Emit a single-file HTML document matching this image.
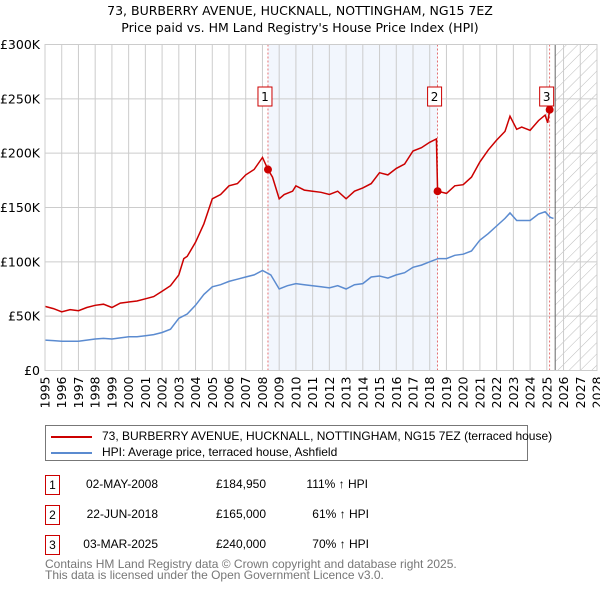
<!DOCTYPE html>
<html><head><meta charset="utf-8">
<style>
body{margin:0;background:#fff;font-family:"Liberation Sans","DejaVu Sans",sans-serif;}
svg text{font-family:"DejaVu Sans","Liberation Sans",sans-serif;}
</style></head>
<body>
<svg id="c" width="600" height="590" viewBox="0 0 600 590" xmlns="http://www.w3.org/2000/svg">
<defs>
<pattern id="hatch" patternUnits="userSpaceOnUse" width="8" height="8" patternTransform="rotate(45)">
<line x1="0" y1="0" x2="0" y2="8" stroke="#bbb" stroke-width="1"/>
</pattern>
</defs>
<text x="300" y="15" text-anchor="middle" font-size="12.5" fill="#000">73, BURBERRY AVENUE, HUCKNALL, NOTTINGHAM, NG15 7EZ</text>
<text x="300" y="32" text-anchor="middle" font-size="12.5" fill="#000">Price paid vs. HM Land Registry's House Price Index (HPI)</text>
<g id="plot"></g>
</svg>
<script>
const yTicks=[0,50000,100000,150000,200000,250000,300000];
const yTickLabels=["£0","£50K","£100K","£150K","£200K","£250K","£300K"];
const xYears=[1995,1996,1997,1998,1999,2000,2001,2002,2003,2004,2005,2006,2007,2008,2009,2010,2011,2012,2013,2014,2015,2016,2017,2018,2019,2020,2021,2022,2023,2024,2025,2026,2027,2028];
const redT=[1995,1995.5,1996,1996.5,1997,1997.5,1998,1998.5,1999,1999.5,2000,2000.5,2001,2001.5,2002,2002.5,2003,2003.3,2003.5,2004,2004.5,2005,2005.5,2006,2006.5,2007,2007.5,2008,2008.33,2008.6,2009,2009.3,2009.8,2010,2010.5,2011,2011.5,2012,2012.5,2013,2013.5,2014,2014.5,2015,2015.5,2016,2016.5,2017,2017.5,2018,2018.4,2018.47,2019,2019.5,2020,2020.5,2021,2021.5,2022,2022.5,2022.8,2023.2,2023.5,2024,2024.5,2024.9,2025.05,2025.17];
const redV=[59000,57000,54000,56000,55000,58000,60000,61000,58000,62000,63000,64000,66000,68000,73000,78000,88000,103000,105000,118000,135000,158000,162000,170000,172000,180000,185000,196000,184950,178000,158000,162000,165000,170000,166000,165000,164000,162000,165000,158000,165000,168000,172000,182000,180000,186000,190000,202000,205000,210000,213000,165000,163000,170000,171000,178000,192000,203000,212000,220000,234000,222000,224000,221000,230000,235000,228000,240000];
const hpiT=[1995,1995.5,1996,1996.5,1997,1997.5,1998,1998.5,1999,1999.5,2000,2000.5,2001,2001.5,2002,2002.5,2003,2003.5,2004,2004.5,2005,2005.5,2006,2006.5,2007,2007.5,2008,2008.5,2009,2009.5,2010,2010.5,2011,2011.5,2012,2012.5,2013,2013.5,2014,2014.5,2015,2015.5,2016,2016.5,2017,2017.5,2018,2018.5,2019,2019.5,2020,2020.5,2021,2021.5,2022,2022.5,2022.8,2023.2,2024,2024.5,2024.9,2025.2,2025.4];
const hpiV=[28000,27500,27000,27000,27000,28000,29000,29500,29000,30000,31000,31000,32000,33000,35000,38000,48000,52000,60000,70000,77000,79000,82000,84000,86000,88000,92000,88000,75000,78000,80000,79000,78000,77000,76000,78000,75000,79000,80000,86000,87000,85000,88000,90000,95000,97000,100000,103000,103000,106000,107000,110000,120000,126000,133000,140000,145000,138000,138000,144000,146000,141000,140000];
const saleT=[2008.33,2018.47,2025.17];
const saleV=[184950,165000,240000];
const saleLabels=["1","2","3"];

const X0=45,X1=597,Y0=370.5,Y1=44.5;
const xs=t=>X0+(t-1995)/(2028-1995)*(X1-X0);
const ys=v=>Y0-(v/300000)*(Y0-Y1);
const NS="http://www.w3.org/2000/svg";
const g=document.getElementById('plot');
function mk(tag,attrs,parent){const e=document.createElementNS(NS,tag);for(const k in attrs)e.setAttribute(k,attrs[k]);(parent||g).appendChild(e);return e;}

const sh=mk('rect',{x:xs(saleT[0]),y:Y1,width:xs(saleT[1])-xs(saleT[0]),height:Y0-Y1,fill:'#eef3fc',opacity:0.75});


const hx=xs(2025.5);
const ht=mk('rect',{x:hx,y:Y1,width:X1-hx,height:Y0-Y1,fill:'url(#hatch)'});


xYears.forEach(yr=>{
 const l=mk('line',{x1:xs(yr),x2:xs(yr),y1:Y1,y2:Y0,stroke:'#ccc','stroke-width':1});
 
 
 const t=mk('text',{x:0,y:0,'font-size':12.5,fill:'#000','text-anchor':'end',transform:`translate(${xs(yr)+4.5},${Y0+6}) rotate(-90)`});
 t.textContent=yr;
 
 
});
yTicks.forEach((v,i)=>{
 const l=mk('line',{x1:X0,x2:X1,y1:ys(v),y2:ys(v),stroke:'#ccc','stroke-width':1});
 
 
 const t=mk('text',{x:40,y:ys(v)+4.5,'font-size':12.5,fill:'#000','text-anchor':'end'});
 t.textContent=yTickLabels[i];
 
 
});
const vl=mk('line',{x1:hx,x2:hx,y1:Y1,y2:Y0,stroke:'#666','stroke-width':1});


saleT.forEach(t=>{
 const l=mk('line',{x1:xs(t),x2:xs(t),y1:Y1,y2:Y0,stroke:'#e05050','stroke-width':0.8,'stroke-dasharray':'2,2'});
 
 
});
function path(T,V){return T.map((t,i)=>(i?'L':'M')+xs(t).toFixed(1)+','+ys(V[i]).toFixed(1)).join('');}
const hp=mk('path',{d:path(hpiT,hpiV),fill:'none',stroke:'#5b8bd0','stroke-width':1.5});


const rp=mk('path',{d:path(redT,redV),fill:'none',stroke:'#cc0000','stroke-width':1.5});


saleT.forEach((t,i)=>{
 const c=mk('circle',{cx:xs(t),cy:ys(saleV[i]),r:4,fill:'#cc0000'});
 
 
 const cx=xs(t)-3;
 const r=mk('rect',{x:cx-7,y:87,width:14,height:19,fill:'#fff',stroke:'#cc0000','stroke-width':1});
 
 
 const tx=mk('text',{x:cx,y:101,'font-size':12,'text-anchor':'middle',fill:'#000'});
 tx.textContent=saleLabels[i];
 
 
});
const fr=mk('rect',{x:X0,y:Y1,width:X1-X0,height:Y0-Y1,fill:'none',stroke:'#ccc','stroke-width':1});


</script>
<div style="position:absolute;left:45px;top:425px;width:481px;height:34px;border:1px solid #777;font-size:12px;">
 <div style="position:absolute;left:5px;top:3px;white-space:nowrap;"><span style="display:inline-block;width:41px;height:2px;background:#cc0000;vertical-align:middle;margin-right:10px;"></span>73, BURBERRY AVENUE, HUCKNALL, NOTTINGHAM, NG15 7EZ (terraced house)</div>
 <div style="position:absolute;left:5px;top:19px;white-space:nowrap;"><span style="display:inline-block;width:41px;height:2px;background:#5b8bd0;vertical-align:middle;margin-right:10px;"></span>HPI: Average price, terraced house, Ashfield</div>
</div>
<div style="position:absolute;left:0;top:0;font-size:12px;">
 <div>
  <div style="position:absolute;left:45px;top:475px;width:13px;height:18px;border:1px solid #cc0000;text-align:center;line-height:18px;">1</div>
  <div style="position:absolute;left:60px;top:477px;width:98px;text-align:right;">02-MAY-2008</div>
  <div style="position:absolute;left:180px;top:477px;width:86px;text-align:right;">£184,950</div>
  <div style="position:absolute;left:280px;top:477px;width:88px;text-align:right;">111% ↑ HPI</div>
 </div>
 <div>
  <div style="position:absolute;left:45px;top:505px;width:13px;height:18px;border:1px solid #cc0000;text-align:center;line-height:18px;">2</div>
  <div style="position:absolute;left:60px;top:507px;width:98px;text-align:right;">22-JUN-2018</div>
  <div style="position:absolute;left:180px;top:507px;width:86px;text-align:right;">£165,000</div>
  <div style="position:absolute;left:280px;top:507px;width:89px;text-align:right;">61% ↑ HPI</div>
 </div>
 <div>
  <div style="position:absolute;left:45px;top:535px;width:13px;height:18px;border:1px solid #cc0000;text-align:center;line-height:18px;">3</div>
  <div style="position:absolute;left:60px;top:537px;width:98px;text-align:right;">03-MAR-2025</div>
  <div style="position:absolute;left:180px;top:537px;width:86px;text-align:right;">£240,000</div>
  <div style="position:absolute;left:280px;top:537px;width:89px;text-align:right;">70% ↑ HPI</div>
 </div>
</div>
<div style="position:absolute;left:45px;top:559px;font-size:12px;color:#777;line-height:10.5px;">Contains HM Land Registry data © Crown copyright and database right 2025.<br>This data is licensed under the Open Government Licence v3.0.</div>
</body></html>
